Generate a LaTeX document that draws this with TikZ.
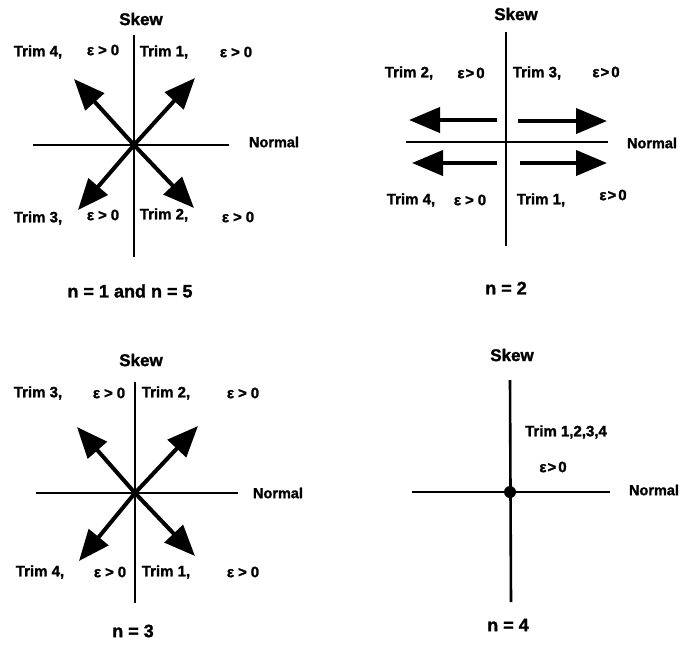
\documentclass[tikz,border=0pt]{standalone}
\usepackage{fontspec}
\setmainfont{Liberation Sans}
\newfontfamily\heavy{Liberation Sans Bold}[FakeBold=1.5]
\usetikzlibrary{arrows.meta}
\begin{document}
\begin{tikzpicture}[x=1pt,y=-1pt,
  axis/.style={line width=2.6pt},
  vec/.style={line width=4pt,-{Triangle[length=31pt,width=25pt]}},
  lbl/.style={font=\fontsize{15}{17}\selectfont\heavy,inner sep=0pt},
  skewlbl/.style={font=\fontsize{17}{19}\selectfont\heavy,inner sep=0pt},
  normlbl/.style={font=\fontsize{14.5}{16}\selectfont\heavy,inner sep=0pt},
  caption/.style={font=\fontsize{18}{20}\selectfont\heavy,inner sep=0pt}]
\useasboundingbox (0,0) rectangle (680,646);
\newcommand\epsgt{ε\hspace{4pt}>\hspace{4pt}0}
\newcommand\epsgtt{ε\hspace{1pt}>\hspace{2pt}0}

% ---------- Panel 1: n = 1 and n = 5 ----------
\coordinate (c1) at (134,145);
\coordinate (v1t) at (134,35);
\coordinate (v1b) at (134,257);
\coordinate (h1l) at (33,145);
\coordinate (h1r) at (229,145);
\draw[axis] (v1t) -- (v1b);
\draw[axis] (h1l) -- (h1r);
\coordinate (p1ul) at (74,79);
\coordinate (p1ur) at (195,78);
\coordinate (p1ll) at (78,210);
\coordinate (p1lr) at (194,208);
\draw[vec] (c1) -- (p1ul);
\draw[vec] (c1) -- (p1ur);
\draw[vec] (c1) -- (p1ll);
\draw[vec] (c1) -- (p1lr);
\node[skewlbl] (s1) at (141,19) {Skew};
\node[normlbl] (n1) at (274,142) {Normal};
\node[lbl] (t1a) at (38,52) {Trim 4,};
\node[lbl] (e1a) at (103,50) {\epsgt};
\node[lbl] (t1b) at (164,52) {Trim 1,};
\node[lbl] (e1b) at (236,52) {\epsgt};
\node[lbl] (t1c) at (38,218) {Trim 3,};
\node[lbl] (e1c) at (103,215) {\epsgt};
\node[lbl] (t1d) at (164,215) {Trim 2,};
\node[lbl] (e1d) at (238,217) {\epsgt};
\node[caption] (cap1) at (130,291) {n = 1 and n = 5};

% ---------- Panel 2: n = 2 ----------
\coordinate (v2t) at (506,32);
\coordinate (v2b) at (506,246);
\coordinate (h2l) at (406,142);
\coordinate (h2r) at (608,142);
\draw[axis] (v2t) -- (v2b);
\draw[axis] (h2l) -- (h2r);
\coordinate (a2s1) at (497,120);
\coordinate (a2e1) at (409,120);
\coordinate (a2s2) at (518,121);
\coordinate (a2e2) at (607,121);
\coordinate (a2s3) at (497,163);
\coordinate (a2e3) at (412,163);
\coordinate (a2s4) at (520,163);
\coordinate (a2e4) at (607,163);
\draw[vec] (a2s1) -- (a2e1);
\draw[vec] (a2s2) -- (a2e2);
\draw[vec] (a2s3) -- (a2e3);
\draw[vec] (a2s4) -- (a2e4);
\node[skewlbl] (s2) at (516,14) {Skew};
\node[normlbl] (n2) at (652,143) {Normal};
\node[lbl] (t2a) at (409,73) {Trim 2,};
\node[lbl] (e2a) at (471,73) {\epsgtt};
\node[lbl] (t2b) at (537,73) {Trim 3,};
\node[lbl] (e2b) at (606,72) {\epsgtt};
\node[lbl] (t2c) at (411,200) {Trim 4,};
\node[lbl] (e2c) at (470,200) {\epsgt};
\node[lbl] (t2d) at (541,200) {Trim 1,};
\node[lbl] (e2d) at (613,195) {\epsgtt};
\node[caption] (cap2) at (506,288) {n = 2};

% ---------- Panel 3: n = 3 ----------
\coordinate (c3) at (135,493);
\coordinate (v3t) at (135,382);
\coordinate (v3b) at (135,603);
\coordinate (h3l) at (36,493);
\coordinate (h3r) at (238,493);
\draw[axis] (v3t) -- (v3b);
\draw[axis] (h3l) -- (h3r);
\coordinate (p3ul) at (77,427);
\coordinate (p3ur) at (198,426);
\coordinate (p3ll) at (79,561);
\coordinate (p3lr) at (195,556);
\draw[vec] (c3) -- (p3ul);
\draw[vec] (c3) -- (p3ur);
\draw[vec] (c3) -- (p3ll);
\draw[vec] (c3) -- (p3lr);
\node[skewlbl] (s3) at (141,360) {Skew};
\node[normlbl] (n3) at (278,493) {Normal};
\node[lbl] (t3a) at (38,393) {Trim 3,};
\node[lbl] (e3a) at (109,393) {\epsgt};
\node[lbl] (t3b) at (166,393) {Trim 2,};
\node[lbl] (e3b) at (243,393) {\epsgt};
\node[lbl] (t3c) at (40,572) {Trim 4,};
\node[lbl] (e3c) at (110,572) {\epsgt};
\node[lbl] (t3d) at (166,572) {Trim 1,};
\node[lbl] (e3d) at (243,572) {\epsgt};
\node[caption] (cap3) at (133,631) {n = 3};

% ---------- Panel 4: n = 4 ----------
\coordinate (v4t) at (510,380);
\coordinate (v4b) at (511,602);
\coordinate (h4l) at (412,492);
\coordinate (h4r) at (610,492);
\draw[axis] (v4t) -- (v4b);
\draw[axis] (h4l) -- (h4r);
\node[circle,fill=black,inner sep=0pt,minimum size=12pt] (dot4) at (510,492) {};
\node[skewlbl] (s4) at (512,355) {Skew};
\node[normlbl] (n4) at (654,490) {Normal};
\node[lbl] (t4) at (566,432) {Trim 1,2,3,4};
\node[lbl] (e4) at (553,467) {\epsgtt};
\node[caption] (cap4) at (508,625) {n = 4};
\end{tikzpicture}
\end{document}
